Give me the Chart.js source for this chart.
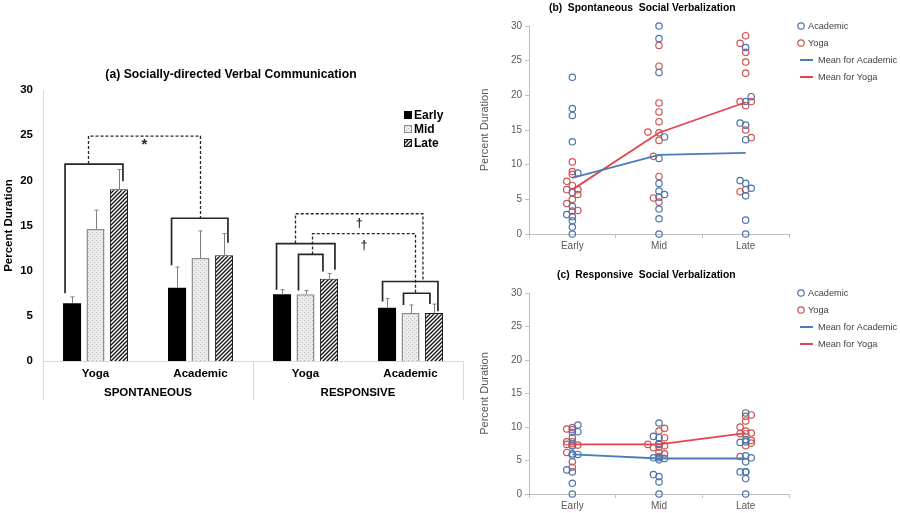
<!DOCTYPE html>
<html>
<head>
<meta charset="utf-8">
<script src="https://cdn.jsdelivr.net/npm/chart.js@4.4.1/dist/chart.umd.min.js"></script>
<style>
  html, body { margin: 0; padding: 0; background: #fff; }
  body { width: 900px; height: 513px; position: relative; overflow: hidden; }
  .box { position: absolute; }
</style>
</head>
<body>
<div class="box" style="left:0;top:60px;width:468px;height:341px"><canvas id="barChart"></canvas></div>
<div class="box" style="left:470px;top:0;width:430px;height:256px"><canvas id="spontChart"></canvas></div>
<div class="box" style="left:470px;top:262px;width:430px;height:251px"><canvas id="respChart"></canvas></div>
<script>
// Panel (a) group means (Early, Mid, Late) and error bar sizes
const phases = ['Early', 'Mid', 'Late'];
const barCategories = ['Yoga', 'Academic', 'Yoga', 'Academic'];
const barGroups = ['SPONTANEOUS', 'RESPONSIVE'];
const yTicks = [0, 5, 10, 15, 20, 25, 30];

const spontYoga = [6.4, 14.6, 19.0];
const spontAcademic = [8.1, 11.4, 11.7];
const respYoga = [7.4, 7.4, 9.1];
const respAcademic = [5.9, 5.3, 5.3];

const spontYogaErr = [0.7, 2.1, 2.2];
const spontAcademicErr = [2.3, 3.0, 2.4];
const respYogaErr = [0.5, 0.4, 0.6];
const respAcademicErr = [1.0, 0.9, 1.0];

// significance brackets (values in percent), g = category, a/b = phase index
const brackets = [
  { g: 0, a: 0, b: 2, top: 21.8, endA: 7.5, endB: 19.9, dxA: -7, dxB: 4 },
  { g: 1, a: 0, b: 2, top: 15.8, endA: 10.6, endB: 13.1, dxA: -5.5, dxB: 4 },
  { g: 2, a: 0, b: 2, top: 13.0, endA: 7.9, endB: 10.1, dxA: -5.5, dxB: 6 },
  { g: 2, a: 1, b: 2, top: 11.8, endA: 7.8, endB: 9.9, dxA: -7, dxB: -6 },
  { g: 3, a: 0, b: 2, top: 8.8, endA: 6.6, endB: 5.5, dxA: -4.5, dxB: 4 },
  { g: 3, a: 1, b: 2, top: 7.5, endA: 6.2, endB: 6.3, dxA: -7, dxB: -4 },
];
const links = [
  { a: [1, 0, -7], b: [1, 1, 0], from: 21.8, top: 24.9, to: 15.8, mark: '*', markY: 23.9 },
  { a: [1, 2, -10], b: [2, 3, -11], from: 13.0, top: 16.3, to: 8.8, mark: '†', markY: 15.2 },
  { a: [1, 2, 7], b: [1, 3, 5], from: 11.8, top: 14.1, to: 7.5, mark: '†', markY: 12.8 },
];

// panels (b) and (c): each child as [percent, jitter column], for Early, Mid, Late
const spontAcademicPts = [
  [[22.6,0],[18.1,0],[17.1,0],[13.3,0],[8.8,1],[6.0,0],[4.0,0],[2.8,-1],[2.5,0],[1.9,0],[1.0,0],[0,0]],
  [[30,0],[28.2,0],[23.3,0],[14.0,1],[10.9,0],[7.3,0],[6.2,0],[5.7,1],[5.3,0],[3.6,0],[2.2,0],[0,0]],
  [[26.9,0],[19.8,1],[19.1,0],[16.0,-1],[15.7,0],[13.6,0],[7.7,-1],[7.3,0],[6.6,1],[5.5,0],[2.0,0],[0,0]],
];
const spontYogaPts = [
  [[10.4,0],[9.0,0],[8.6,0],[7.6,-1],[7.0,0],[6.4,-1],[6.4,1],[5.7,1],[5.0,0],[4.4,-1],[3.3,0],[3.4,1]],
  [[27.2,0],[24.2,0],[18.9,0],[17.6,0],[16.2,0],[14.7,-2],[14.6,0],[13.5,0],[11.2,-1],[8.3,0],[5.2,-1],[4.6,0]],
  [[28.6,0],[27.5,-1],[26.2,0],[24.8,0],[23.2,0],[19.1,-1],[19.1,1],[18.5,0],[15.0,0],[13.9,1],[6.1,-1],[6.4,0]],
];
const respAcademicPts = [
  [[10.3,1],[9.3,1],[9.6,0],[8.4,0],[7.2,0],[6.0,0],[5.9,1],[5.8,0],[3.6,-1],[3.3,0],[1.6,0],[0,0]],
  [[10.6,0],[8.6,-1],[8.4,0],[7.5,0],[5.4,-1],[5.4,0],[5.3,1],[5.1,0],[2.9,-1],[2.6,0],[1.8,0],[0,0]],
  [[12.1,0],[8.1,0],[7.8,0],[7.7,-1],[5.7,0],[5.4,1],[4.8,0],[3.3,-1],[3.3,0],[3.3,0],[2.3,0],[0,0]],
];
const respYogaPts = [
  [[9.7,-1],[9.9,0],[9.2,0],[7.8,-1],[7.4,-1],[7.3,1],[7.5,0],[7.2,0],[7.8,0],[6.2,-1],[4.8,0],[4.0,0]],
  [[9.8,1],[9.4,0],[8.4,1],[7.4,-2],[7.5,0],[7.2,1],[6.9,-1],[7.0,0],[7.4,0],[6.2,0],[6.0,1],[5.6,0]],
  [[11.8,1],[11.6,0],[10.9,0],[10.0,-1],[9.4,0],[9.0,-1],[9.1,1],[9.0,0],[8.0,1],[7.6,1],[7.2,0],[5.6,-1]],
];

const FONT = "'Liberation Sans', Arial, sans-serif";
Chart.defaults.font.family = FONT;
Chart.defaults.animation = false;

const groupsA = [spontYoga, spontAcademic, respYoga, respAcademic];
const errsA = [spontYogaErr, spontAcademicErr, respYogaErr, respAcademicErr];

function makePattern(draw, n) {
  const c = document.createElement('canvas');
  c.width = c.height = n;
  const g = c.getContext('2d');
  draw(g, n);
  return g.createPattern(c, 'repeat');
}
const dotFill = makePattern((g, n) => {
  g.fillStyle = '#ececec'; g.fillRect(0, 0, n, n);
  g.fillStyle = '#bdbdbd'; g.fillRect(0, 0, 1, 1); g.fillRect(2, 2, 1, 1);
}, 4);
const hatchFill = makePattern((g, n) => {
  g.fillStyle = '#fff'; g.fillRect(0, 0, n, n);
  g.strokeStyle = '#111'; g.lineWidth = 1.3;
  g.beginPath();
  g.moveTo(0, n); g.lineTo(n, 0);
  g.moveTo(-1, 1); g.lineTo(1, -1);
  g.moveTo(n - 1, n + 1); g.lineTo(n + 1, n - 1);
  g.stroke();
}, 4);
const fills = ['#000', dotFill, hatchFill];
const borders = ['#000', '#8c8c8c', '#1a1a1a'];

const barExtras = {
  id: 'barExtras',
  afterDatasetsDraw(chart) {
    const { ctx, scales: { y } } = chart;
    const bx = (s, g, dx) => chart.getDatasetMeta(s).data[g].x + dx;
    ctx.save();
    // error bars (upper only)
    ctx.strokeStyle = '#7f7f7f';
    ctx.lineWidth = 1;
    chart.data.datasets.forEach((ds, s) => {
      chart.getDatasetMeta(s).data.forEach((bar, g) => {
        const top = y.getPixelForValue(ds.data[g] + errsA[g][s]);
        const xc = Math.round(bar.x) + 0.5;
        ctx.beginPath();
        ctx.moveTo(xc, bar.y); ctx.lineTo(xc, top);
        ctx.moveTo(xc - 2, top); ctx.lineTo(xc + 2, top);
        ctx.stroke();
      });
    });
    // solid brackets
    ctx.strokeStyle = '#262626';
    ctx.lineWidth = 1.7;
    brackets.forEach(b => {
      const xa = bx(b.a, b.g, b.dxA), xb = bx(b.b, b.g, b.dxB);
      const yt = y.getPixelForValue(b.top);
      ctx.beginPath();
      ctx.moveTo(xa, y.getPixelForValue(b.endA));
      ctx.lineTo(xa, yt); ctx.lineTo(xb, yt);
      ctx.lineTo(xb, y.getPixelForValue(b.endB));
      ctx.stroke();
    });
    // dashed comparisons
    ctx.setLineDash([3, 2]);
    ctx.lineWidth = 1.3;
    ctx.fillStyle = '#262626';
    ctx.textAlign = 'center';
    ctx.textBaseline = 'middle';
    links.forEach(l => {
      const xa = bx(...l.a), xb = bx(...l.b);
      const yt = y.getPixelForValue(l.top);
      ctx.beginPath();
      ctx.moveTo(xa, y.getPixelForValue(l.from));
      ctx.lineTo(xa, yt); ctx.lineTo(xb, yt);
      ctx.lineTo(xb, y.getPixelForValue(l.to));
      ctx.stroke();
      ctx.font = `bold ${l.mark === '*' ? 15 : 12}px ${FONT}`;
      ctx.fillText(l.mark, (xa + xb) / 2, y.getPixelForValue(l.markY));
    });
    ctx.restore();
  },
  afterDraw(chart) {
    const { ctx, chartArea: ca } = chart;
    ctx.save();
    // title
    ctx.fillStyle = '#000';
    ctx.font = `bold 12.2px ${FONT}`;
    ctx.textAlign = 'center';
    ctx.textBaseline = 'middle';
    ctx.fillText('(a) Socially-directed Verbal Communication', 231, ca.top - 15);
    // group separators and labels under the axis
    const mid = (ca.left + ca.right) / 2;
    ctx.strokeStyle = '#d9d9d9';
    ctx.lineWidth = 1;
    [ca.left, mid, ca.right].forEach(xv => {
      ctx.beginPath();
      ctx.moveTo(Math.round(xv) + 0.5, ca.bottom);
      ctx.lineTo(Math.round(xv) + 0.5, ca.bottom + 39);
      ctx.stroke();
    });
    ctx.font = `bold 11.5px ${FONT}`;
    barGroups.forEach((name, i) => {
      ctx.fillText(name, ca.left + (mid - ca.left) * (i + 0.5), ca.bottom + 32);
    });
    // legend
    const lx = ca.right - 59;
    ctx.textAlign = 'left';
    phases.forEach((p, s) => {
      const ly = ca.top + 25 + s * 14;
      ctx.fillStyle = fills[s];
      ctx.fillRect(lx, ly - 4, 8, 8);
      ctx.strokeStyle = borders[s];
      ctx.lineWidth = 1;
      ctx.strokeRect(lx + 0.5, ly - 3.5, 7, 7);
      ctx.fillStyle = '#000';
      ctx.font = `bold 12px ${FONT}`;
      ctx.fillText(p, lx + 10, ly + 0.5);
    });
    ctx.restore();
  }
};

new Chart(document.getElementById('barChart'), {
  type: 'bar',
  data: {
    labels: barCategories,
    datasets: phases.map((p, s) => ({
      label: p,
      data: groupsA.map(g => g[s]),
      backgroundColor: fills[s],
      borderColor: borders[s],
      borderWidth: s === 0 ? 0 : (s === 1 ? 1.5 : 1),
      categoryPercentage: 0.67,
      barPercentage: 0.77,
    }))
  },
  options: {
    responsive: true,
    maintainAspectRatio: false,
    layout: { padding: { top: 30, right: 5, left: 0, bottom: 0 } },
    plugins: { legend: { display: false }, tooltip: { enabled: false } },
    scales: {
      x: {
        grid: { display: false, drawTicks: false },
        border: { display: true, color: '#d9d9d9' },
        ticks: { font: { size: 11.5, weight: 'bold' }, color: '#000', padding: 6 },
        afterFit: s => { s.height = 40; }
      },
      y: {
        min: 0, max: 30,
        afterBuildTicks: s => { s.ticks = yTicks.map(v => ({ value: v })); },
        grid: { display: false, drawTicks: false },
        border: { display: true, color: '#d9d9d9' },
        ticks: { font: { size: 11.5, weight: 'bold' }, color: '#000', padding: 10 },
        title: { display: true, text: 'Percent Duration', font: { size: 11.5, weight: 'bold' }, color: '#000', padding: { top: 2, bottom: 0 } },
        afterFit: s => { s.width = 43; }
      }
    }
  },
  plugins: [barExtras]
});

// ---- panels (b) and (c)
const academicPoint = '#4d74a8';
const yogaPoint = '#cf5252';
const academicLine = '#4a7bbb';
const yogaLine = '#e2464b';
const jitter = 0.064;

function toPoints(pts) {
  return pts.flatMap((list, i) => list.map(([v, c]) => ({ x: i + c * jitter, y: v })));
}
function toMeans(vals) {
  return vals.map((v, i) => ({ x: i, y: v }));
}

const scatterExtras = {
  id: 'scatterExtras',
  afterDraw(chart, args, opts) {
    const { ctx, chartArea: ca } = chart;
    ctx.save();
    ctx.fillStyle = '#000';
    ctx.font = `bold 10.3px ${FONT}`;
    ctx.textBaseline = 'middle';
    ctx.textAlign = 'left';
    ctx.fillText(opts.title, ca.left + opts.titleDx, ca.top - 18);
    ctx.font = `9.2px ${FONT}`;
    ctx.fillStyle = '#404040';
    const items = [
      ['point', academicPoint, 'Academic'],
      ['point', yogaPoint, 'Yoga'],
      ['line', academicLine, 'Mean for Academic'],
      ['line', yogaLine, 'Mean for Yoga'],
    ];
    items.forEach(([kind, color, text], i) => {
      const ly = ca.top + i * 17;
      ctx.strokeStyle = color;
      if (kind === 'point') {
        ctx.lineWidth = 1.2;
        ctx.beginPath();
        ctx.arc(ca.right + 12, ly, 3.2, 0, Math.PI * 2);
        ctx.stroke();
        ctx.fillText(text, ca.right + 19, ly);
      } else {
        ctx.lineWidth = 2;
        ctx.beginPath();
        ctx.moveTo(ca.right + 11, ly); ctx.lineTo(ca.right + 24, ly);
        ctx.stroke();
        ctx.fillText(text, ca.right + 29, ly);
      }
    });
    ctx.restore();
  }
};

function makeScatter(id, title, titleDx, topPad, axisH, academicPts, yogaPts, academicMean, yogaMean) {
  return new Chart(document.getElementById(id), {
    type: 'scatter',
    data: {
      datasets: [
        { type: 'line', label: 'Mean for Academic', data: toMeans(academicMean), borderColor: academicLine, borderWidth: 1.8, pointRadius: 0, order: 0 },
        { type: 'line', label: 'Mean for Yoga', data: toMeans(yogaMean), borderColor: yogaLine, borderWidth: 1.8, pointRadius: 0, order: 0 },
        { label: 'Academic', data: toPoints(academicPts), borderColor: academicPoint, backgroundColor: 'rgba(0,0,0,0)', pointRadius: 3.2, borderWidth: 1.2, clip: false, order: 1 },
        { label: 'Yoga', data: toPoints(yogaPts), borderColor: yogaPoint, backgroundColor: 'rgba(0,0,0,0)', pointRadius: 3.2, borderWidth: 1.2, clip: false, order: 1 },
      ]
    },
    options: {
      responsive: true,
      maintainAspectRatio: false,
      layout: { padding: { top: topPad, right: 111, left: 0, bottom: 0 } },
      plugins: {
        legend: { display: false },
        tooltip: { enabled: false },
        scatterExtras: { title, titleDx }
      },
      scales: {
        x: {
          type: 'linear', min: -0.5, max: 2.5,
          afterBuildTicks: s => { s.ticks = [-0.5, 0, 0.5, 1, 1.5, 2, 2.5].map(v => ({ value: v })); },
          grid: {
            drawOnChartArea: false, drawTicks: true, tickLength: 4,
            color: c => Number.isInteger(c.tick.value) ? 'rgba(0,0,0,0)' : '#bfbfbf'
          },
          border: { display: true, color: '#bfbfbf' },
          ticks: {
            autoSkip: false, maxRotation: 0, padding: 2, color: '#595959', font: { size: 10 },
            callback: v => Number.isInteger(v) ? phases[v] : ''
          },
          afterFit: s => { s.height = axisH; }
        },
        y: {
          min: 0, max: 30,
          afterBuildTicks: s => { s.ticks = yTicks.map(v => ({ value: v })); },
          grid: { drawOnChartArea: false, drawTicks: true, tickLength: 4, color: '#bfbfbf' },
          border: { display: true, color: '#bfbfbf' },
          ticks: { padding: 3, color: '#595959', font: { size: 10 } },
          title: { display: true, text: 'Percent Duration', color: '#595959', font: { size: 11 }, padding: { top: 8, bottom: 0 } },
          afterFit: s => { s.width = 59; }
        }
      }
    },
    plugins: [scatterExtras]
  });
}

makeScatter('spontChart', '(b)  Spontaneous  Social Verbalization', 20, 26, 22,
  spontAcademicPts, spontYogaPts, spontAcademic, spontYoga);
makeScatter('respChart', '(c)  Responsive  Social Verbalization', 28, 31, 19,
  respAcademicPts, respYogaPts, respAcademic, respYoga);
</script>
</body>
</html>
